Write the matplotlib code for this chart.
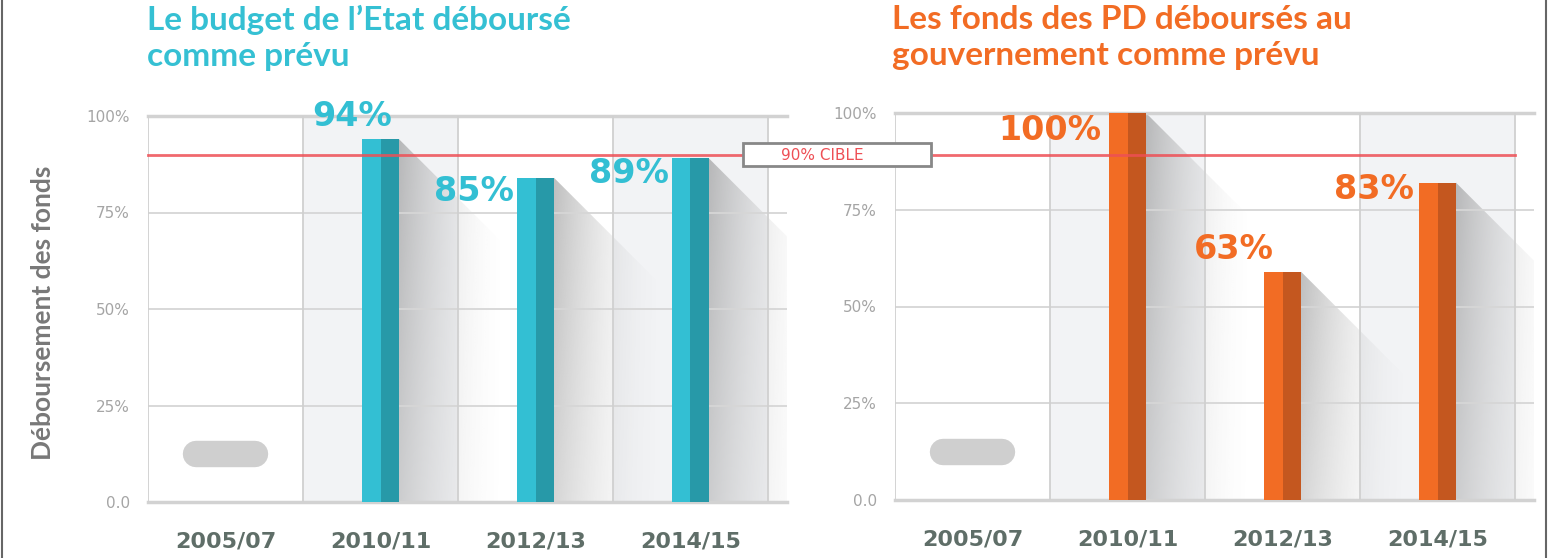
import numpy as np
import matplotlib
matplotlib.use('Agg')
import matplotlib.pyplot as plt
from matplotlib.patches import Polygon, Rectangle
from matplotlib.lines import Line2D
from matplotlib.transforms import blended_transform_factory

# Données
periods = ['2005/07', '2010/11', '2012/13', '2014/15']
etat_heights = [np.nan, 94, 84, 89]       # hauteur des barres
etat_labels = ['', '94%', '85%', '89%']
pd_heights = [np.nan, 100, 59, 82]
pd_labels = ['', '100%', '63%', '83%']
target = 90
yticks = [0, 25, 50, 75, 100]
ytick_labels = ['0.0', '25%', '50%', '75%', '100%']

W, H = 1549, 558
fig = plt.figure(figsize=(W / 100, H / 100), dpi=100)
fig.patch.set_facecolor('white')

def px_axes(x0, x1, y_top, y_bot):
    return fig.add_axes([x0 / W, 1 - y_bot / H, (x1 - x0) / W, (y_bot - y_top) / H])

col_px = 155.0
ext = 19 / col_px  # les lignes horizontales dépassent un peu

ax1 = px_axes(148, 768 + 19, 116, 502)
ax2 = px_axes(895, 1515 + 19, 113, 500)

def draw_panel(ax, heights, labels, light, dark, offsets, ypx):
    ax.set_xlim(-0.5, 3.5 + ext)
    ax.set_ylim(0, 100)
    for s in ax.spines.values():
        s.set_visible(False)
    # fonds alternés
    for i in (1, 3):
        ax.axvspan(i - 0.5, i + 0.5, color='#f2f3f5', zorder=0, lw=0)
    # grille (au-dessus des ombres)
    for y in (25, 50, 75):
        ax.axhline(y, color='#d6d6d6', lw=1.3, zorder=1)
    for y in (0, 100):
        ax.axhline(y, color='#d2d2d2', lw=2.5, zorder=1, clip_on=False)
    ax.vlines(np.arange(-0.5, 4, 1), 0, 100, color='#d0d0d0', lw=1.3, zorder=1)

    bw = 37 / col_px
    sw = 110 / col_px          # largeur de l'ombre
    drop = 110 / ypx           # ombre à 45°
    # dégradé : s'efface vers la droite, un peu vers le bas
    gx = np.linspace(0, 1, 200)
    gy = np.linspace(0, 1, 100)[:, None]   # 0 = bas, 1 = haut
    grad = np.zeros((100, 200, 4))
    grad[..., :3] = 0.40
    grad[..., 3] = 0.42 * (1 - gx) ** 1.8 * (0.65 + 0.35 * gy)
    for i, h in enumerate(heights):
        if np.isnan(h):
            # emplacement vide (pas de données)
            ax.plot([i - 0.19, i + 0.19], [12.5, 12.5], color='#cfcfcf', lw=19,
                    solid_capstyle='round', zorder=2)
            continue
        xr = i + bw / 2
        poly = Polygon([(xr, h), (xr + sw, h - drop), (xr + sw, 0), (xr, 0)],
                       closed=True, transform=ax.transData)
        im = ax.imshow(grad, extent=[xr, xr + sw, 0, h], aspect='auto', zorder=0.5,
                       interpolation='bilinear', origin='lower')
        im.set_clip_path(poly)
        ax.bar(i - bw / 2, h, width=bw / 2, align='edge', color=light, zorder=2, lw=0)
        ax.bar(i, h, width=bw / 2, align='edge', color=dark, zorder=2, lw=0)
        dx, dy = offsets[i]
        ax.annotate(labels[i], xy=(i - bw / 2, h), xytext=(dx, dy),
                    textcoords='offset pixels', ha='right', va='center',
                    fontsize=24, fontweight='bold', color=light,
                    family='DejaVu Sans', annotation_clip=False, zorder=3)
    ax.set_xlim(-0.5, 3.5 + ext)
    ax.set_ylim(0, 100)
    ax.set_xticks(range(len(periods)))
    ax.set_xticklabels(periods, fontsize=16, fontweight='bold', color='#5f6e68')
    ax.set_yticks(yticks)
    ax.set_yticklabels(ytick_labels, fontsize=11, color='#a5a5a5')
    ax.tick_params(axis='x', length=0, pad=21)
    ax.tick_params(axis='y', length=0, pad=13)

# décalages des étiquettes (pixels, par rapport au coin haut gauche de la barre)
left_offsets = [(0, 0), (30, 23), (-3, -14), (-3, -15)]
right_offsets = [(0, 0), (-8, -17), (10, 22), (-5, -7)]

draw_panel(ax1, etat_heights, etat_labels, '#33bfd3', '#2799a8', left_offsets, 3.86)
draw_panel(ax2, pd_heights, pd_labels, '#f26c24', '#c4571f', right_offsets, 3.87)

# titres
fig.text(147 / W, 1 - 5 / H, "Le budget de l\u2019Etat déboursé\ncomme prévu",
         fontsize=24, fontweight='bold', color='#35c0d3', family='Lato',
         ha='left', va='top', linespacing=1.3)
fig.text(892 / W, 1 - 5 / H, "Les fonds des PD déboursés au\ngouvernement comme prévu",
         fontsize=24, fontweight='bold', color='#f26c24', family='Lato',
         ha='left', va='top', linespacing=1.3)

fig.text(43 / W, 1 - 313 / H, 'Déboursement des fonds', rotation=90,
         fontsize=19, fontweight='bold', color='#787878', family='Lato',
         ha='center', va='center')

# ligne cible 90 %
tr = blended_transform_factory(fig.transFigure, ax1.transData)
fig.add_artist(Line2D([148 / W, 1515 / W], [target, target], transform=tr,
                      color='#ee4f55', lw=2, alpha=0.85, zorder=5))
fig.add_artist(Rectangle((743 / W, 1 - 166 / H), 188 / W, 23 / H,
                         transform=fig.transFigure, facecolor='white',
                         edgecolor='#888888', lw=2, zorder=6))
fig.text(822 / W, 1 - 155 / H, '90% CIBLE', fontsize=11, color='#ee4f55',
         ha='center', va='center', zorder=7)

# cadre
fig.add_artist(Line2D([1.5 / W, 1.5 / W], [0, 1], color='#666666', lw=1.5))
fig.add_artist(Line2D([1546 / W, 1546 / W], [0, 1], color='#666666', lw=1.5))

fig.savefig('out.png', dpi=100, facecolor='white')
